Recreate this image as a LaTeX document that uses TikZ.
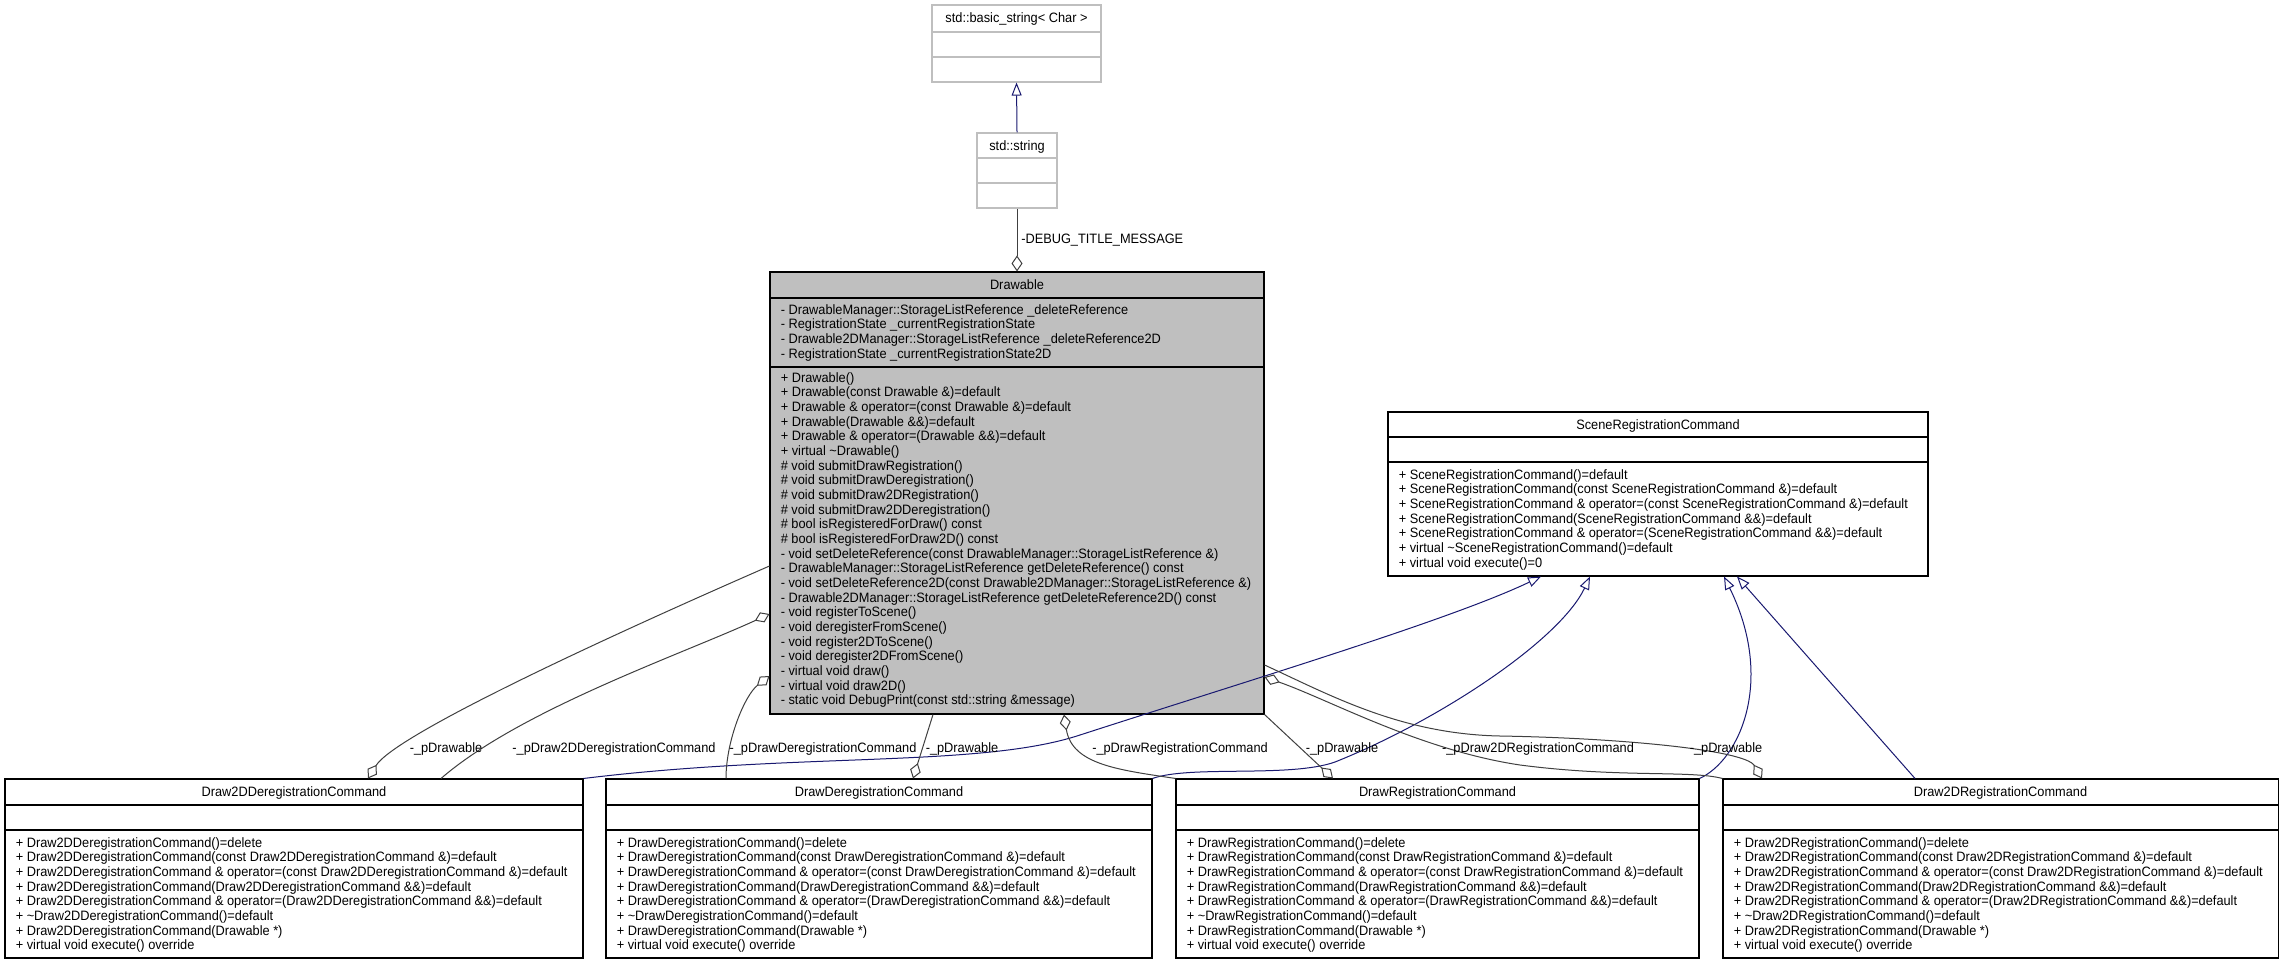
\documentclass[tikz,border=0pt]{standalone}
\usepackage{fontspec}
\setmainfont{Liberation Sans}[FakeStretch=0.94]
\usetikzlibrary{arrows.meta,fit}

\definecolor{grey75}{HTML}{BFBFBF}
\definecolor{grey25}{HTML}{404040}
\definecolor{midnightblue}{HTML}{191970}
\newcommand{\umlfont}{\fontsize{10.2pt}{11pt}\selectfont}

\tikzset{
  classbox/.style={draw=black, line width=0.8pt, inner sep=0pt},
  extbox/.style={draw=grey75, line width=0.8pt, inner sep=0pt},
  classname/.style={font=\umlfont, inner sep=0pt, anchor=base},
  members/.style={font=\umlfont, inner sep=0pt, anchor=north west, align=left},
  rolename/.style={font=\umlfont, inner sep=0pt, anchor=base},
  aggregation/.style={draw=grey25, line width=0.75pt,
    arrows={Diamond[open,length=12pt,width=8.25pt]-}},
  generalization/.style={draw=midnightblue, line width=0.75pt,
    arrows={-Triangle[open,length=9.75pt,width=7.5pt]}}
}

\begin{document}
\begin{tikzpicture}[x=0.75pt, y=-0.75pt]
    \path[use as bounding box, fill=white] (0,0) rectangle (2283,964);

    % external classes
    \node[extbox, fit={(932,5) (1101,82)}] (basicstr) {};
    \draw[grey75, line width=0.8pt] (basicstr.west |- 0,32) -- (basicstr.east |- 0,32);
    \draw[grey75, line width=0.8pt] (basicstr.west |- 0,57) -- (basicstr.east |- 0,57);
    \node[classname] (basicstr-title) at (1016.5,22) {std::basic\_string< Char >};

    \node[extbox, fit={(977,133) (1057,208)}] (string) {};
    \draw[grey75, line width=0.8pt] (string.west |- 0,158) -- (string.east |- 0,158);
    \draw[grey75, line width=0.8pt] (string.west |- 0,183) -- (string.east |- 0,183);
    \node[classname] (string-title) at (1017,150) {std::string};

    % Drawable
    \node[classbox, fill=grey75, fit={(770,272) (1264,714)}] (drawable) {};
    \draw[line width=0.8pt] (drawable.west |- 0,298) -- (drawable.east |- 0,298);
    \draw[line width=0.8pt] (drawable.west |- 0,367) -- (drawable.east |- 0,367);
    \node[classname] (drawable-title) at (1017,289) {Drawable};
    \node[members] (drawable-attrs) at (780.5,304) {%
        - DrawableManager::StorageListReference \_deleteReference\\
        - RegistrationState \_currentRegistrationState\\
        - Drawable2DManager::StorageListReference \_deleteReference2D\\
        - RegistrationState \_currentRegistrationState2D};
    \node[members] (drawable-ops) at (780.5,372) {%
        + Drawable()\\
        + Drawable(const Drawable \&)=default\\
        + Drawable \& operator=(const Drawable \&)=default\\
        + Drawable(Drawable \&\&)=default\\
        + Drawable \& operator=(Drawable \&\&)=default\\
        + virtual \textasciitilde Drawable()\\
        \# void submitDrawRegistration()\\
        \# void submitDrawDeregistration()\\
        \# void submitDraw2DRegistration()\\
        \# void submitDraw2DDeregistration()\\
        \# bool isRegisteredForDraw() const\\
        \# bool isRegisteredForDraw2D() const\\
        - void setDeleteReference(const DrawableManager::StorageListReference \&)\\
        - DrawableManager::StorageListReference getDeleteReference() const\\
        - void setDeleteReference2D(const Drawable2DManager::StorageListReference \&)\\
        - Drawable2DManager::StorageListReference getDeleteReference2D() const\\
        - void registerToScene()\\
        - void deregisterFromScene()\\
        - void register2DToScene()\\
        - void deregister2DFromScene()\\
        - virtual void draw()\\
        - virtual void draw2D()\\
        - static void DebugPrint(const std::string \&message)};

    % SceneRegistrationCommand
    \node[classbox, fit={(1388,412) (1928,576)}] (scene) {};
    \draw[line width=0.8pt] (scene.west |- 0,437) -- (scene.east |- 0,437);
    \draw[line width=0.8pt] (scene.west |- 0,462) -- (scene.east |- 0,462);
    \node[classname] (scene-title) at (1658,429) {SceneRegistrationCommand};
    \node[members] (scene-ops) at (1398.5,469) {%
        + SceneRegistrationCommand()=default\\
        + SceneRegistrationCommand(const SceneRegistrationCommand \&)=default\\
        + SceneRegistrationCommand \& operator=(const SceneRegistrationCommand \&)=default\\
        + SceneRegistrationCommand(SceneRegistrationCommand \&\&)=default\\
        + SceneRegistrationCommand \& operator=(SceneRegistrationCommand \&\&)=default\\
        + virtual \textasciitilde SceneRegistrationCommand()=default\\
        + virtual void execute()=0};

    % command classes
    \node[classbox, fit={(5,779) (583,958)}] (d2ddereg) {};
    \draw[line width=0.8pt] (d2ddereg.west |- 0,805) -- (d2ddereg.east |- 0,805);
    \draw[line width=0.8pt] (d2ddereg.west |- 0,830) -- (d2ddereg.east |- 0,830);
    \node[classname] (d2ddereg-title) at (294,796) {Draw2DDeregistrationCommand};
    \node[members] (d2ddereg-ops) at (15.5,837) {%
        + Draw2DDeregistrationCommand()=delete\\
        + Draw2DDeregistrationCommand(const Draw2DDeregistrationCommand \&)=default\\
        + Draw2DDeregistrationCommand \& operator=(const Draw2DDeregistrationCommand \&)=default\\
        + Draw2DDeregistrationCommand(Draw2DDeregistrationCommand \&\&)=default\\
        + Draw2DDeregistrationCommand \& operator=(Draw2DDeregistrationCommand \&\&)=default\\
        + \textasciitilde Draw2DDeregistrationCommand()=default\\
        + Draw2DDeregistrationCommand(Drawable *)\\
        + virtual void execute() override};

    \node[classbox, fit={(606,779) (1152,958)}] (ddereg) {};
    \draw[line width=0.8pt] (ddereg.west |- 0,805) -- (ddereg.east |- 0,805);
    \draw[line width=0.8pt] (ddereg.west |- 0,830) -- (ddereg.east |- 0,830);
    \node[classname] (ddereg-title) at (879,796) {DrawDeregistrationCommand};
    \node[members] (ddereg-ops) at (616.5,837) {%
        + DrawDeregistrationCommand()=delete\\
        + DrawDeregistrationCommand(const DrawDeregistrationCommand \&)=default\\
        + DrawDeregistrationCommand \& operator=(const DrawDeregistrationCommand \&)=default\\
        + DrawDeregistrationCommand(DrawDeregistrationCommand \&\&)=default\\
        + DrawDeregistrationCommand \& operator=(DrawDeregistrationCommand \&\&)=default\\
        + \textasciitilde DrawDeregistrationCommand()=default\\
        + DrawDeregistrationCommand(Drawable *)\\
        + virtual void execute() override};

    \node[classbox, fit={(1176,779) (1699,958)}] (dreg) {};
    \draw[line width=0.8pt] (dreg.west |- 0,805) -- (dreg.east |- 0,805);
    \draw[line width=0.8pt] (dreg.west |- 0,830) -- (dreg.east |- 0,830);
    \node[classname] (dreg-title) at (1437.5,796) {DrawRegistrationCommand};
    \node[members] (dreg-ops) at (1186.5,837) {%
        + DrawRegistrationCommand()=delete\\
        + DrawRegistrationCommand(const DrawRegistrationCommand \&)=default\\
        + DrawRegistrationCommand \& operator=(const DrawRegistrationCommand \&)=default\\
        + DrawRegistrationCommand(DrawRegistrationCommand \&\&)=default\\
        + DrawRegistrationCommand \& operator=(DrawRegistrationCommand \&\&)=default\\
        + \textasciitilde DrawRegistrationCommand()=default\\
        + DrawRegistrationCommand(Drawable *)\\
        + virtual void execute() override};

    \node[classbox, fit={(1723,779) (2278,958)}] (d2dreg) {};
    \draw[line width=0.8pt] (d2dreg.west |- 0,805) -- (d2dreg.east |- 0,805);
    \draw[line width=0.8pt] (d2dreg.west |- 0,830) -- (d2dreg.east |- 0,830);
    \node[classname] (d2dreg-title) at (2000.5,796) {Draw2DRegistrationCommand};
    \node[members] (d2dreg-ops) at (1733.5,837) {%
        + Draw2DRegistrationCommand()=delete\\
        + Draw2DRegistrationCommand(const Draw2DRegistrationCommand \&)=default\\
        + Draw2DRegistrationCommand \& operator=(const Draw2DRegistrationCommand \&)=default\\
        + Draw2DRegistrationCommand(Draw2DRegistrationCommand \&\&)=default\\
        + Draw2DRegistrationCommand \& operator=(Draw2DRegistrationCommand \&\&)=default\\
        + \textasciitilde Draw2DRegistrationCommand()=default\\
        + Draw2DRegistrationCommand(Drawable *)\\
        + virtual void execute() override};

    % inheritance
    \draw[generalization] (string.north) -- (basicstr.south);
    \draw[generalization] (d2ddereg.north east) .. controls (800,752) and (980,768) .. (1080,735)
        .. controls (1250,680) and (1450,620) .. (scene.south -| 1541,0);
    \draw[generalization] (ddereg.north east) .. controls (1190,765) and (1290,778) .. (1335,762)
        .. controls (1440,720) and (1560,640) .. (scene.south -| 1590,0);
    \draw[generalization] (dreg.north east) .. controls (1740,760) and (1775,680) .. (scene.south -| 1724,0);
    \draw[generalization] (d2dreg.north -| 1915,0) -- (scene.south -| 1737,0);

    % aggregations
    \draw[aggregation] (drawable.north) -- (string.south);
    \node[rolename, anchor=base west] (debug-role) at (1021,243) {-DEBUG\_TITLE\_MESSAGE};

    \draw[aggregation] (d2ddereg.north -| 368,0) .. controls (395,735) and (600,640) .. (drawable.west |- 0,566);
    \draw[aggregation] (drawable.west |- 0,614) .. controls (680,655) and (520,710) .. (d2ddereg.north -| 441,0);
    \draw[aggregation] (drawable.west |- 0,676) .. controls (745,695) and (726,740) .. (ddereg.north -| 726,0);
    \draw[aggregation] (ddereg.north -| 913,0) -- (drawable.south -| 933,0);
    \draw[aggregation] (drawable.south -| 1064,0) .. controls (1072,765) and (1120,770) .. (dreg.north west);
    \draw[aggregation] (dreg.north -| 1333,0) -- (drawable.south east);
    \draw[aggregation] (d2dreg.north -| 1762,0) .. controls (1745,750) and (1620,738) .. (1500,736)
        .. controls (1400,734) and (1330,695) .. (drawable.east |- 0,665);
    \draw[aggregation] (drawable.east |- 0,677) .. controls (1330,700) and (1420,750) .. (1520,765)
        .. controls (1620,778) and (1690,770) .. (d2dreg.north west);

    \node[rolename] (d2ddereg-role) at (446,752) {-\_pDrawable};
    \node[rolename] (drawable-role1) at (614,752) {-\_pDraw2DDeregistrationCommand};
    \node[rolename] (drawable-role2) at (823,752) {-\_pDrawDeregistrationCommand};
    \node[rolename] (ddereg-role) at (962,752) {-\_pDrawable};
    \node[rolename] (drawable-role3) at (1180,752) {-\_pDrawRegistrationCommand};
    \node[rolename] (dreg-role) at (1342,752) {-\_pDrawable};
    \node[rolename] (drawable-role4) at (1538,752) {-\_pDraw2DRegistrationCommand};
    \node[rolename] (d2dreg-role) at (1726,752) {-\_pDrawable};
\end{tikzpicture}
\end{document}
